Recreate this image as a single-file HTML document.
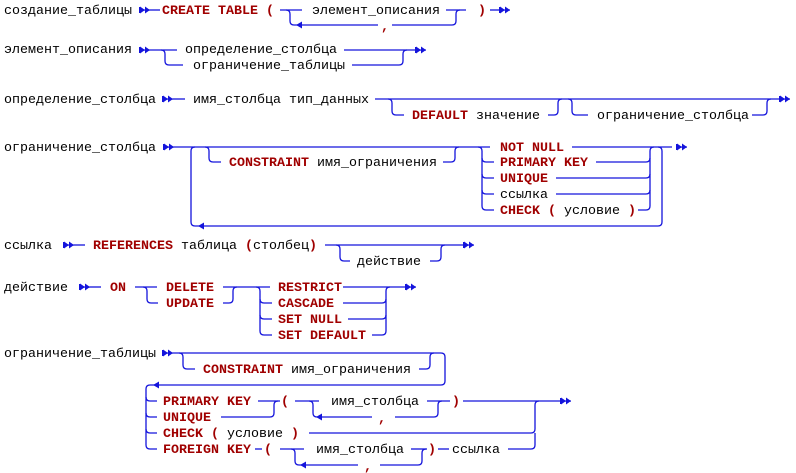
<!DOCTYPE html>
<html><head><meta charset="utf-8"><style>
html,body{margin:0;padding:0;background:#fff;}
svg{display:block;}
text{font-family:"Liberation Mono","DejaVu Sans Mono",monospace;font-size:13.33px;fill:#000;}
.k{font-weight:bold;fill:#a00000;}
path{stroke:#1414dc;fill:none;stroke-width:1.3;}
.f{fill:#1414dc;stroke:none;}
</style></head><body>
<svg width="796" height="473" viewBox="0 0 796 473" xmlns="http://www.w3.org/2000/svg">
<defs>
<g id="d"><rect class="f" x="0" y="-3" width="1.3" height="6"/><polygon class="f" points="1,-3.5 6,0 1,3.5"/><polygon class="f" points="6,-3.5 11,0 6,3.5"/><rect class="f" x="0" y="-0.6" width="11" height="1.3"/></g>
<g id="l"><polygon class="f" points="0,0 6,-3.5 6,3.5"/></g>
</defs>

<!-- Row 1 -->
<text x="4" y="14">создание_таблицы</text>
<use href="#d" transform="translate(139,10)"/>
<path d="M150,10 H160"/>
<text x="162" y="14" class="k">CREATE TABLE (</text>
<path d="M280,10 H302"/>
<text x="312" y="14">элемент_описания</text>
<path d="M446,10 H466"/>
<path d="M286,10 Q290,10 290,14 V21 Q290,25 294,25 H378"/>
<use href="#l" transform="translate(296,25)"/>
<text x="381" y="30" class="k">,</text>
<path d="M392,25 H452 Q456,25 456,21 V14 Q456,10 460,10"/>
<text x="478" y="14" class="k">)</text>
<path d="M490,10 H500"/>
<use href="#d" transform="translate(499,10)"/>

<!-- Row 2 -->
<text x="4" y="53">элемент_описания</text>
<use href="#d" transform="translate(139,50)"/>
<path d="M150,50 H177"/>
<text x="185" y="53">определение_столбца</text>
<path d="M344,50 H415"/>
<use href="#d" transform="translate(415,50)"/>
<path d="M161,50 Q165,50 165,54 V61 Q165,65 169,65 H183"/>
<text x="193" y="69">ограничение_таблицы</text>
<path d="M352,65 H399 Q403,65 403,61 V54 Q403,50 407,50"/>

<!-- Row 3 -->
<text x="4" y="103">определение_столбца</text>
<use href="#d" transform="translate(162,99)"/>
<path d="M173,99 H185"/>
<text x="193" y="103">имя_столбца тип_данных</text>
<path d="M375,99 H779"/>
<use href="#d" transform="translate(779,99)"/>
<path d="M388,99 Q392,99 392,103 V111 Q392,115 396,115 H404"/>
<text x="412" y="119" class="k">DEFAULT</text>
<text x="476" y="119">значение</text>
<path d="M548,115 H554 Q558,115 558,111 V103 Q558,99 562,99"/>
<path d="M568,99 Q572,99 572,103 V111 Q572,115 576,115 H588"/>
<text x="597" y="119">ограничение_столбца</text>
<path d="M752,115 H763 Q767,115 767,111 V103 Q767,99 771,99"/>

<!-- Row 4 -->
<text x="4" y="151">ограничение_столбца</text>
<use href="#d" transform="translate(163,147)"/>
<path d="M174,147 H490"/>
<text x="500" y="151" class="k">NOT NULL</text>
<path d="M572,147 H672"/>
<use href="#d" transform="translate(676,147)"/>
<path d="M195,147 Q191,147 191,151 V222 Q191,226 195,226 H658 Q662,226 662,222 V151 Q662,147 658,147"/>
<use href="#l" transform="translate(198,226)"/>
<path d="M205,147 Q209,147 209,151 V158 Q209,162 213,162 H221"/>
<text x="229" y="166" class="k">CONSTRAINT</text>
<text x="317" y="166">имя_ограничения</text>
<path d="M443,162 H451 Q455,162 455,158 V151 Q455,147 459,147"/>
<path d="M478,147 Q482,147 482,151 V206 Q482,210 486,210 H494"/>
<path d="M482,158 Q482,162 486,162 H494"/>
<path d="M482,174 Q482,178 486,178 H494"/>
<path d="M482,190 Q482,194 486,194 H494"/>
<text x="500" y="166" class="k">PRIMARY KEY</text>
<text x="500" y="182" class="k">UNIQUE</text>
<text x="500" y="198">ссылка</text>
<text x="500" y="214"><tspan class="k">CHECK (</tspan> условие <tspan class="k">)</tspan></text>
<path d="M638,210 H646 Q650,210 650,206 V151 Q650,147 654,147"/>
<path d="M596,162 H646 Q650,162 650,158"/>
<path d="M556,178 H646 Q650,178 650,174"/>
<path d="M556,194 H646 Q650,194 650,190"/>

<!-- Row 5 -->
<text x="4" y="249">ссылка</text>
<use href="#d" transform="translate(63,245)"/>
<path d="M74,245 H85"/>
<text x="93" y="249" class="k">REFERENCES</text>
<text x="181" y="249">таблица</text>
<text x="245" y="249"><tspan class="k">(</tspan>столбец<tspan class="k">)</tspan></text>
<path d="M325,245 H463"/>
<use href="#d" transform="translate(463,245)"/>
<path d="M336,245 Q340,245 340,249 V257 Q340,261 344,261 H350"/>
<text x="357" y="265">действие</text>
<path d="M430,261 H437 Q441,261 441,257 V249 Q441,245 445,245"/>

<!-- Row 6 -->
<text x="4" y="291">действие</text>
<use href="#d" transform="translate(79,287)"/>
<path d="M90,287 H101"/>
<text x="110" y="291" class="k">ON</text>
<path d="M135,287 H157"/>
<text x="166" y="291" class="k">DELETE</text>
<path d="M223,287 H270"/>
<text x="278" y="291" class="k">RESTRICT</text>
<path d="M343,287 H405"/>
<use href="#d" transform="translate(405,287)"/>
<path d="M143,287 Q147,287 147,291 V299 Q147,303 151,303 H158"/>
<text x="166" y="307" class="k">UPDATE</text>
<path d="M223,303 H229 Q233,303 233,299 V291 Q233,287 237,287"/>
<path d="M256,287 Q260,287 260,291 V331 Q260,335 264,335 H272"/>
<path d="M260,299 Q260,303 264,303 H272"/>
<path d="M260,315 Q260,319 264,319 H272"/>
<text x="278" y="307" class="k">CASCADE</text>
<text x="278" y="323" class="k">SET NULL</text>
<text x="278" y="339" class="k">SET DEFAULT</text>
<path d="M343,303 H382 Q386,303 386,299"/>
<path d="M348,319 H382 Q386,319 386,315"/>
<path d="M372,335 H382 Q386,335 386,331 V291 Q386,287 390,287"/>

<!-- Row 7 -->
<text x="4" y="357">ограничение_таблицы</text>
<use href="#d" transform="translate(162,353)"/>
<path d="M173,353 H441 Q445,353 445,357 V381 Q445,385 441,385 H150 Q146,385 146,389 V445 Q146,449 150,449 H157"/>
<use href="#l" transform="translate(153,385)"/>
<path d="M146,397 Q146,401 150,401 H157"/>
<path d="M146,413 Q146,417 150,417 H157"/>
<path d="M146,429 Q146,433 150,433 H157"/>
<path d="M179,353 Q183,353 183,357 V365 Q183,369 187,369 H195"/>
<text x="203" y="373" class="k">CONSTRAINT</text>
<text x="291" y="373">имя_ограничения</text>
<path d="M419,369 H426 Q430,369 430,365 V357 Q430,353 434,353"/>

<text x="163" y="405" class="k">PRIMARY KEY</text>
<path d="M258,401 H280"/>
<text x="281" y="405" class="k">(</text>
<path d="M295,401 H319"/>
<text x="331" y="405">имя_столбца</text>
<path d="M427,401 H450"/>
<text x="452" y="405" class="k">)</text>
<path d="M463,401 H560"/>
<use href="#d" transform="translate(560,401)"/>
<text x="163" y="421" class="k">UNIQUE</text>
<path d="M221,417 H270 Q274,417 274,413 V405 Q274,401 278,401"/>
<path d="M309,401 Q313,401 313,405 V413 Q313,417 317,417 H372"/>
<use href="#l" transform="translate(316,417)"/>
<text x="378" y="422" class="k">,</text>
<path d="M395,417 H434 Q438,417 438,413 V405 Q438,401 442,401"/>
<text x="163" y="437"><tspan class="k">CHECK (</tspan> условие <tspan class="k">)</tspan></text>
<path d="M309,433 H531 Q535,433 535,429 V405 Q535,401 539,401"/>
<text x="163" y="453" class="k">FOREIGN KEY</text>
<path d="M255,449 H262"/>
<text x="264" y="453" class="k">(</text>
<path d="M280,449 H304"/>
<text x="316" y="453">имя_столбца</text>
<path d="M411,449 H427"/>
<text x="428" y="453" class="k">)</text>
<path d="M438,449 H449"/>
<text x="452" y="453">ссылка</text>
<path d="M508,449 H531 Q535,449 535,445 V433"/>
<path d="M291,449 Q295,449 295,453 V461 Q295,465 299,465 H358"/>
<use href="#l" transform="translate(300,465)"/>
<text x="364" y="470" class="k">,</text>
<path d="M380,465 H418 Q422,465 422,461 V453 Q422,449 426,449"/>
</svg>
</body></html>
